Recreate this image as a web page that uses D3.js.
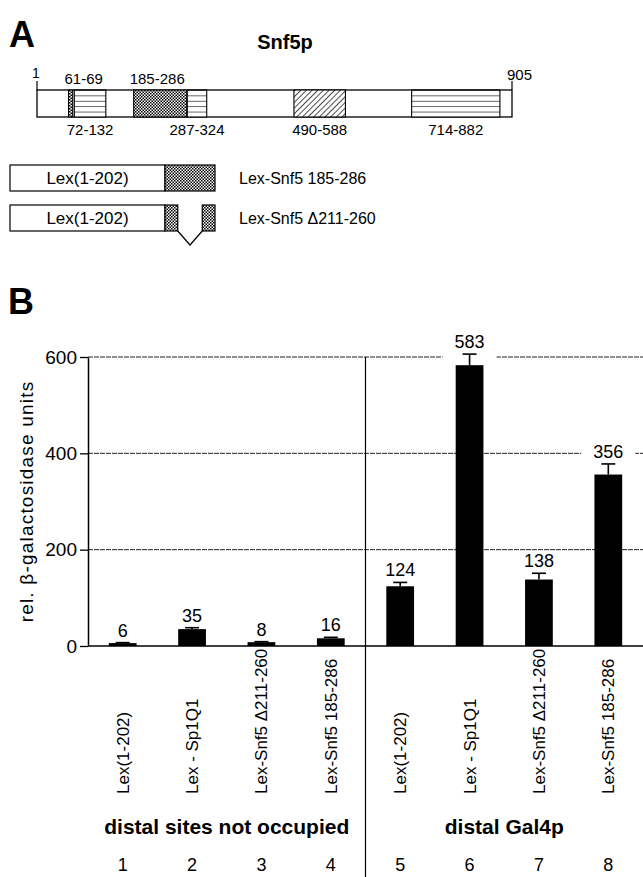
<!DOCTYPE html>
<html>
<head>
<meta charset="utf-8">
<script src="https://cdn.jsdelivr.net/npm/d3@7"></script>
<style>
  body { margin: 0; background: #fff; }
  svg { display: block; }
  text { font-family: "Liberation Sans", Arial, Helvetica, sans-serif; fill: #000; }
</style>
</head>
<body>
<svg id="fig" width="643" height="877"></svg>
<script>
// ---- panel A data: Snf5p domain map ----
var proteinLength = 905;
var domainStart = [61, 72, 185, 287, 490, 714];
var domainEnd   = [69, 132, 286, 324, 588, 882];
var domainFill  = ["stipple", "lines", "stipple", "lines", "hatch", "lines"];
var domainLabelAbove = [true, false, true, false, false, false];

// constructs fused to Lex(1-202)
var constructNames = ["Lex-Snf5 185-286", "Lex-Snf5 \u0394211-260"];
var constructPieces = [[[185, 286]], [[185, 210], [261, 286]]];
var constructGaps = [[], [[211, 260]]];

// ---- panel B data: reporter activity ----
var lanes = [1, 2, 3, 4, 5, 6, 7, 8];
var laneLabels = ["Lex(1-202)", "Lex - Sp1Q1", "Lex-Snf5 \u0394211-260", "Lex-Snf5 185-286",
                  "Lex(1-202)", "Lex - Sp1Q1", "Lex-Snf5 \u0394211-260", "Lex-Snf5 185-286"];
var activity = [6, 35, 8, 16, 124, 583, 138, 356];
var activityErr = [1, 3, 1, 2, 8, 23, 13, 22];
var groupNames = ["distal sites not occupied", "distal Gal4p"];
var groupLanes = [[1, 4], [5, 8]];
var yTicks = [0, 200, 400, 600];

var svg = d3.select("#fig");
var width = 643, height = 877;

// patterns used for the domain boxes
var defs = svg.append("defs");

var stip = defs.append("pattern").attr("id", "stipple")
    .attr("patternUnits", "userSpaceOnUse").attr("width", 3).attr("height", 3);
stip.append("rect").attr("width", 3).attr("height", 3).attr("fill", "#fff");
stip.append("rect").attr("width", 1.5).attr("height", 1.5).attr("fill", "#000");
stip.append("rect").attr("x", 1.5).attr("y", 1.5).attr("width", 1.5).attr("height", 1.5).attr("fill", "#000");

var barTop = 90, barH = 27;

var lines = defs.append("pattern").attr("id", "lines")
    .attr("patternUnits", "userSpaceOnUse").attr("width", 6).attr("height", barH / 5)
    .attr("y", barTop);
lines.append("rect").attr("width", 6).attr("height", barH / 5).attr("fill", "#fff");
lines.append("line").attr("x1", 0).attr("x2", 6).attr("y1", 0).attr("y2", 0)
    .attr("stroke", "#000").attr("stroke-width", 1.2);

var hatch = defs.append("pattern").attr("id", "hatch")
    .attr("patternUnits", "userSpaceOnUse").attr("width", 4).attr("height", 4)
    .attr("patternTransform", "rotate(45)");
hatch.append("rect").attr("width", 4).attr("height", 4).attr("fill", "#fff");
hatch.append("line").attr("x1", 0).attr("x2", 0).attr("y1", 0).attr("y2", 4)
    .attr("stroke", "#000").attr("stroke-width", 1.4);

// ================= panel A =================
svg.append("text").attr("x", 9).attr("y", 47)
    .attr("font-size", "36px").attr("font-weight", "bold").text("A");

svg.append("text").attr("x", 285).attr("y", 49)
    .attr("text-anchor", "middle").attr("font-size", "20px").attr("font-weight", "bold")
    .text("Snf5p");

var res = d3.scaleLinear().domain([1, proteinLength]).range([37, 512]);

var gA = svg.append("g");

// whole protein
gA.append("rect")
    .attr("x", res(1)).attr("y", barTop)
    .attr("width", res(proteinLength) - res(1)).attr("height", barH)
    .attr("fill", "#fff").attr("stroke", "#000").attr("stroke-width", 1.3);

// end ticks
[1, proteinLength].forEach(function(r) {
    gA.append("line").attr("x1", res(r)).attr("x2", res(r))
        .attr("y1", barTop - 9).attr("y2", barTop)
        .attr("stroke", "#000").attr("stroke-width", 1.2);
});

gA.selectAll("rect.domain")
    .data(domainStart)
    .enter()
    .append("rect")
    .attr("class", "domain")
    .attr("x", function(d) { return res(d); })
    .attr("y", barTop)
    .attr("width", function(d, i) { return res(domainEnd[i]) - res(d); })
    .attr("height", barH)
    .attr("fill", function(d, i) { return "url(#" + domainFill[i] + ")"; })
    .attr("stroke", "#000").attr("stroke-width", 1.1);

gA.append("text").attr("x", res(1) - 1).attr("y", barTop - 12)
    .attr("text-anchor", "middle").attr("font-size", "14px").text("1");
gA.append("text").attr("x", res(proteinLength) + 20).attr("y", barTop - 10)
    .attr("text-anchor", "end").attr("font-size", "15px").text(proteinLength);

gA.selectAll("text.dlab")
    .data(domainStart)
    .enter()
    .append("text")
    .attr("class", "dlab")
    .attr("font-size", "15px")
    .attr("text-anchor", function(d, i) { return domainLabelAbove[i] ? "start" : "middle"; })
    .attr("x", function(d, i) {
        return domainLabelAbove[i] ? res(d) - 4 : (res(d) + res(domainEnd[i])) / 2;
    })
    .attr("y", function(d, i) { return domainLabelAbove[i] ? barTop - 6 : barTop + barH + 18; })
    .text(function(d, i) { return d + "-" + domainEnd[i]; });

// constructs
var lexX0 = 10, lexX1 = 165;
var cons = d3.scaleLinear().domain([185, 287]).range([lexX1, 215]);
var consY = d3.scaleBand().domain(constructNames).range([165, 231]).paddingInner(0.35).paddingOuter(0);
var boxH = consY.bandwidth();

constructNames.forEach(function(name, k) {
    var y0 = consY(name);
    var g = svg.append("g");
    g.append("rect").attr("x", lexX0).attr("y", y0)
        .attr("width", lexX1 - lexX0).attr("height", boxH)
        .attr("fill", "#fff").attr("stroke", "#000").attr("stroke-width", 1.2);
    g.append("text").attr("x", (lexX0 + lexX1) / 2).attr("y", y0 + 19)
        .attr("text-anchor", "middle").attr("font-size", "17px").text("Lex(1-202)");
    g.selectAll("rect.piece")
        .data(constructPieces[k])
        .enter()
        .append("rect")
        .attr("class", "piece")
        .attr("x", function(p) { return cons(p[0]); })
        .attr("y", y0)
        .attr("width", function(p) { return cons(p[1] + 1) - cons(p[0]); })
        .attr("height", boxH)
        .attr("fill", "url(#stipple)")
        .attr("stroke", "#000").attr("stroke-width", 1.2);
    constructGaps[k].forEach(function(gp) {
        var a = cons(gp[0]), b = cons(gp[1] + 1);
        g.append("path")
            .attr("d", "M" + a + "," + (y0 + boxH) + "L" + ((a + b) / 2) + "," + (y0 + boxH + 14) +
                       "L" + b + "," + (y0 + boxH))
            .attr("fill", "none").attr("stroke", "#000").attr("stroke-width", 1.2);
    });
    g.append("text").attr("x", 239).attr("y", y0 + 19)
        .attr("font-size", "16px").text(name);
});

// ================= panel B =================
svg.append("text").attr("x", 8).attr("y", 314)
    .attr("font-size", "36px").attr("font-weight", "bold").text("B");

var x0 = 88, yTop = 357, yBot = 646;

var x = d3.scaleBand()
    .domain(lanes)
    .range([x0, width])
    .paddingInner(0.6)
    .paddingOuter(0.3);

var y = d3.scaleLinear()
    .domain([0, 600])
    .range([yBot, yTop]);

var gB = svg.append("g");

// grid lines
gB.selectAll("line.grid")
    .data(yTicks.filter(function(t) { return t > 0; }))
    .enter()
    .append("line")
    .attr("class", "grid")
    .attr("x1", x0).attr("x2", width)
    .attr("y1", function(d) { return y(d); })
    .attr("y2", function(d) { return y(d); })
    .attr("stroke", "#222").attr("stroke-width", 1)
    .attr("stroke-dasharray", "5,1");

// white boxes behind value labels (they break the grid lines)
gB.selectAll("rect.lblbg")
    .data(activity)
    .enter()
    .append("rect")
    .attr("class", "lblbg")
    .attr("x", function(d, i) { return x(lanes[i]) + x.bandwidth() / 2 - 27; })
    .attr("width", 54)
    .attr("y", function(d, i) { return y(d + activityErr[i]) - 22; })
    .attr("height", 26)
    .attr("fill", "#fff");

// y axis
var yAxis = d3.axisLeft(y).tickValues(yTicks).tickSize(8).tickSizeOuter(0).tickPadding(3);
var ax = gB.append("g").attr("transform", "translate(" + x0 + ",0)").call(yAxis);
ax.select(".domain").attr("stroke", "#000").attr("stroke-width", 1.5);
ax.selectAll(".tick line").attr("stroke", "#000").attr("stroke-width", 1.3);
ax.selectAll(".tick text").attr("font-size", "19px")
    .attr("font-family", "'Liberation Sans', Arial, sans-serif").attr("fill", "#000");

// baseline
gB.append("line").attr("x1", x0).attr("x2", width)
    .attr("y1", y(0)).attr("y2", y(0))
    .attr("stroke", "#000").attr("stroke-width", 1.5);

// group separator
var sepX = (x(groupLanes[0][1]) + x.bandwidth() + x(groupLanes[1][0])) / 2;
gB.append("line").attr("x1", sepX).attr("x2", sepX)
    .attr("y1", yTop).attr("y2", height)
    .attr("stroke", "#000").attr("stroke-width", 1.2);

// y axis title
svg.append("text")
    .attr("transform", "translate(33," + ((yTop + yBot) / 2) + ") rotate(-90)")
    .attr("text-anchor", "middle").attr("font-size", "19px")
    .attr("letter-spacing", "1.2px")
    .text("rel. \u03b2-galactosidase units");

// error bars
var eb = gB.selectAll("g.err")
    .data(activity)
    .enter()
    .append("g")
    .attr("class", "err");
eb.append("line")
    .attr("x1", function(d, i) { return x(lanes[i]) + x.bandwidth() / 2; })
    .attr("x2", function(d, i) { return x(lanes[i]) + x.bandwidth() / 2; })
    .attr("y1", function(d) { return y(d); })
    .attr("y2", function(d, i) { return y(d + activityErr[i]); })
    .attr("stroke", "#000").attr("stroke-width", 1.6);
eb.append("line")
    .attr("x1", function(d, i) { return x(lanes[i]) + x.bandwidth() / 2 - 7; })
    .attr("x2", function(d, i) { return x(lanes[i]) + x.bandwidth() / 2 + 7; })
    .attr("y1", function(d, i) { return y(d + activityErr[i]); })
    .attr("y2", function(d, i) { return y(d + activityErr[i]); })
    .attr("stroke", "#000").attr("stroke-width", 1.6);

// bars
gB.selectAll("rect.bar")
    .data(activity)
    .enter()
    .append("rect")
    .attr("class", "bar")
    .attr("x", function(d, i) { return x(lanes[i]); })
    .attr("width", x.bandwidth())
    .attr("y", function(d) { return y(d); })
    .attr("height", function(d) { return y(0) - y(d); })
    .attr("fill", "#000");

// value labels
gB.selectAll("text.val")
    .data(activity)
    .enter()
    .append("text")
    .attr("class", "val")
    .attr("x", function(d, i) { return x(lanes[i]) + x.bandwidth() / 2; })
    .attr("y", function(d, i) { return y(d + activityErr[i]) - 6; })
    .attr("text-anchor", "middle")
    .attr("font-size", "18px")
    .text(function(d) { return d; });

// rotated lane labels
gB.selectAll("text.lane")
    .data(laneLabels)
    .enter()
    .append("text")
    .attr("class", "lane")
    .attr("transform", function(d, i) {
        return "translate(" + (x(lanes[i]) + x.bandwidth() / 2 + 6) + ",794) rotate(-90)";
    })
    .attr("font-size", "17px")
    .text(function(d) { return d; });

// group labels
gB.selectAll("text.group")
    .data(groupNames)
    .enter()
    .append("text")
    .attr("class", "group")
    .attr("x", function(d, i) {
        return i == 0 ? (x0 + sepX) / 2 : (sepX + width) / 2;
    })
    .attr("y", 834)
    .attr("text-anchor", "middle")
    .attr("font-size", "21px")
    .attr("font-weight", "bold")
    .text(function(d) { return d; });

// lane numbers
gB.selectAll("text.num")
    .data(lanes)
    .enter()
    .append("text")
    .attr("class", "num")
    .attr("x", function(d) { return x(d) + x.bandwidth() / 2; })
    .attr("y", 871)
    .attr("text-anchor", "middle")
    .attr("font-size", "18px")
    .text(function(d) { return d; });
</script>
</body>
</html>
